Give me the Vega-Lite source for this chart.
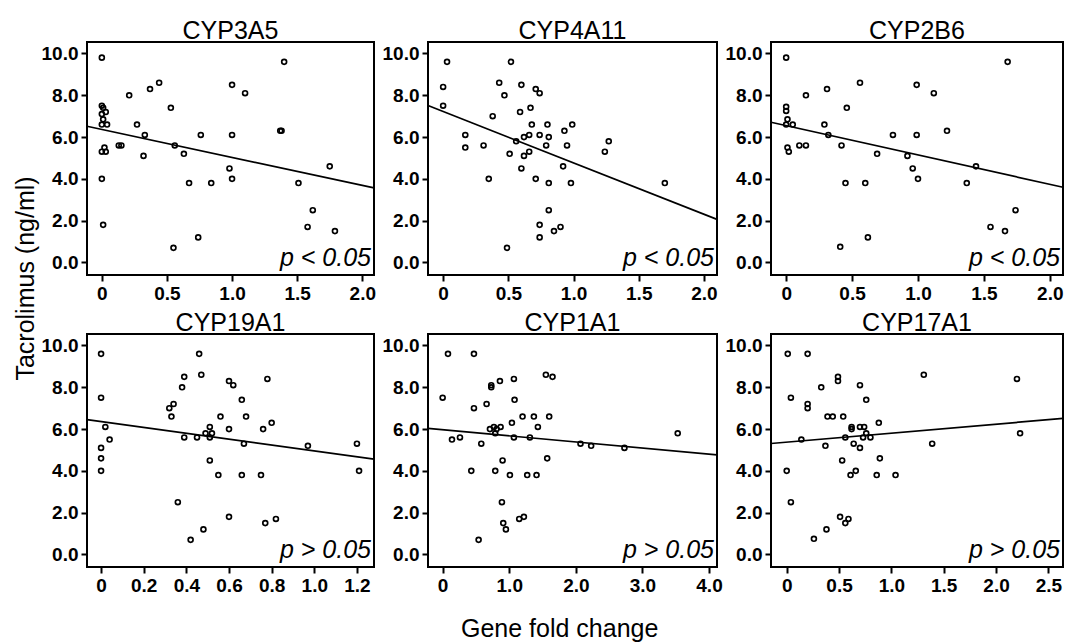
{
  "$schema": "https://vega.github.io/schema/vega-lite/v6.json",
  "padding": {"left": 12, "top": 18, "right": 2, "bottom": 2},
  "background": "white",
  "config": {
    "font": "Liberation Sans",
    "view": {"stroke": "black", "strokeWidth": 2},
    "axis": {"grid": false, "domain": false, "tickColor": "black", "tickWidth": 2, "tickSize": 6, "labelFont": "Liberation Sans", "labelFontSize": 19, "labelFontWeight": "bold", "labelColor": "black", "labelPadding": 3, "labelFlush": false, "labelOverlap": false},
    "title": {"font": "Liberation Sans", "fontSize": 25, "fontWeight": "normal", "color": "black", "offset": -2, "baseline": "alphabetic"},
    "point": {"shape": "circle", "filled": false, "color": "black", "strokeWidth": 1.7, "size": 24, "opacity": 1},
    "line": {"color": "black", "strokeWidth": 1.7},
    "text": {"font": "Liberation Sans", "fontSize": 25, "fontStyle": "italic", "align": "right", "baseline": "alphabetic", "dx": -3, "dy": -9, "color": "black"}
  },
  "title": {"text": "Gene fold change", "orient": "bottom", "anchor": "middle", "fontSize": 25, "offset": 21, "dx": 20, "baseline": "top"},
  "columns": 3,
  "spacing": {"row": 59, "column": 54},
  "bounds": "flush",
  "concat": [
    {
      "width": 287, "height": 233, "title": "CYP3A5",
      "layer": [
        {"data": {"values": [
          {"fold": 0, "tac": 9.8}, {"fold": 1.40, "tac": 9.6}, {"fold": 0.44, "tac": 8.6}, {"fold": 1.0, "tac": 8.5}, {"fold": 0.37, "tac": 8.3}, {"fold": 1.10, "tac": 8.1}, {"fold": 0.21, "tac": 8.0}, {"fold": 0, "tac": 7.5}, {"fold": 0.01, "tac": 7.4}, {"fold": 0.53, "tac": 7.4}, {"fold": 0.03, "tac": 7.2}, {"fold": 0, "tac": 7.1}, {"fold": 0.01, "tac": 6.85}, {"fold": 0, "tac": 6.6}, {"fold": 0.04, "tac": 6.6}, {"fold": 0.27, "tac": 6.6}, {"fold": 0.33, "tac": 6.1}, {"fold": 0.76, "tac": 6.1}, {"fold": 1.0, "tac": 6.1}, {"fold": 1.37, "tac": 6.3}, {"fold": 1.38, "tac": 6.3}, {"fold": 0.13, "tac": 5.6}, {"fold": 0.15, "tac": 5.6}, {"fold": 0.56, "tac": 5.6}, {"fold": 0.02, "tac": 5.5}, {"fold": 0, "tac": 5.3}, {"fold": 0.03, "tac": 5.3}, {"fold": 0.32, "tac": 5.1}, {"fold": 0.63, "tac": 5.2}, {"fold": 0.98, "tac": 4.5}, {"fold": 1.75, "tac": 4.6}, {"fold": 0, "tac": 4.0}, {"fold": 1.0, "tac": 4.0}, {"fold": 0.67, "tac": 3.8}, {"fold": 0.84, "tac": 3.8}, {"fold": 1.51, "tac": 3.8}, {"fold": 1.62, "tac": 2.5}, {"fold": 1.58, "tac": 1.7}, {"fold": 1.79, "tac": 1.5}, {"fold": 0.01, "tac": 1.8}, {"fold": 0.74, "tac": 1.2}, {"fold": 0.55, "tac": 0.7}
        ]}, "mark": "point",
        "encoding": {
          "x": {"field": "fold", "type": "quantitative", "title": null, "scale": {"domain": [-0.114, 2.09], "nice": false, "zero": false}, "axis": {"values": [0, 0.5, 1, 1.5, 2], "labelExpr": "datum.value == 0 ? '0' : format(datum.value, '.1f')"}},
          "y": {"field": "tac", "type": "quantitative", "title": "Tacrolimus (ng/ml)", "scale": {"domain": [-0.6, 10.55], "nice": false, "zero": false}, "axis": {"values": [0, 2, 4, 6, 8, 10], "format": ".1f", "titleFontSize": 25, "titleFontWeight": "normal", "titleFont": "Liberation Sans", "titleColor": "black", "titleX": -62, "titleY": 236, "titleAngle": -90, "titleAlign": "center", "titleBaseline": "middle"}}
        }},
        {"data": {"values": [{"fold": -0.114, "tac": 6.52}, {"fold": 2.09, "tac": 3.57}]}, "mark": "line",
         "encoding": {"x": {"field": "fold", "type": "quantitative"}, "y": {"field": "tac", "type": "quantitative"}}},
        {"data": {"values": [{"p": "p < 0.05"}]}, "mark": "text", "encoding": {"x": {"datum": 2.09, "type": "quantitative"}, "y": {"datum": -0.6, "type": "quantitative"}, "text": {"field": "p"}}}
      ]
    },
    {
      "width": 289, "height": 233, "title": "CYP4A11",
      "layer": [
        {"data": {"values": [
          {"fold": 0.03, "tac": 9.6}, {"fold": 0.52, "tac": 9.6}, {"fold": 0.43, "tac": 8.6}, {"fold": 0.60, "tac": 8.5}, {"fold": 0, "tac": 8.4}, {"fold": 0.71, "tac": 8.3}, {"fold": 0.74, "tac": 8.1}, {"fold": 0.47, "tac": 8.0}, {"fold": 0, "tac": 7.5}, {"fold": 0.67, "tac": 7.4}, {"fold": 0.59, "tac": 7.2}, {"fold": 0.38, "tac": 7.0}, {"fold": 0.68, "tac": 6.6}, {"fold": 0.80, "tac": 6.6}, {"fold": 0.99, "tac": 6.6}, {"fold": 0.93, "tac": 6.3}, {"fold": 0.17, "tac": 6.1}, {"fold": 0.66, "tac": 6.1}, {"fold": 0.74, "tac": 6.1}, {"fold": 0.62, "tac": 6.0}, {"fold": 0.81, "tac": 6.0}, {"fold": 1.27, "tac": 5.8}, {"fold": 0.56, "tac": 5.8}, {"fold": 0.31, "tac": 5.6}, {"fold": 0.79, "tac": 5.6}, {"fold": 0.95, "tac": 5.6}, {"fold": 0.17, "tac": 5.5}, {"fold": 0.66, "tac": 5.3}, {"fold": 1.24, "tac": 5.3}, {"fold": 0.51, "tac": 5.2}, {"fold": 0.62, "tac": 5.1}, {"fold": 0.92, "tac": 4.6}, {"fold": 0.60, "tac": 4.5}, {"fold": 0.35, "tac": 4.0}, {"fold": 0.71, "tac": 4.0}, {"fold": 0.81, "tac": 3.8}, {"fold": 0.98, "tac": 3.8}, {"fold": 1.70, "tac": 3.8}, {"fold": 0.81, "tac": 2.5}, {"fold": 0.74, "tac": 1.8}, {"fold": 0.90, "tac": 1.7}, {"fold": 0.85, "tac": 1.5}, {"fold": 0.74, "tac": 1.2}, {"fold": 0.49, "tac": 0.7}
        ]}, "mark": "point",
        "encoding": {
          "x": {"field": "fold", "type": "quantitative", "title": null, "scale": {"domain": [-0.116, 2.1], "nice": false, "zero": false}, "axis": {"values": [0, 0.5, 1, 1.5, 2], "labelExpr": "datum.value == 0 ? '0' : format(datum.value, '.1f')"}},
          "y": {"field": "tac", "type": "quantitative", "title": null, "scale": {"domain": [-0.6, 10.55], "nice": false, "zero": false}, "axis": {"values": [0, 2, 4, 6, 8, 10], "format": ".1f"}}
        }},
        {"data": {"values": [{"fold": -0.116, "tac": 7.51}, {"fold": 2.1, "tac": 2.06}]}, "mark": "line",
         "encoding": {"x": {"field": "fold", "type": "quantitative"}, "y": {"field": "tac", "type": "quantitative"}}},
        {"data": {"values": [{"p": "p < 0.05"}]}, "mark": "text", "encoding": {"x": {"datum": 2.1, "type": "quantitative"}, "y": {"datum": -0.6, "type": "quantitative"}, "text": {"field": "p"}}}
      ]
    },
    {
      "width": 292, "height": 233, "title": "CYP2B6",
      "layer": [
        {"data": {"values": [
          {"fold": 0, "tac": 9.8}, {"fold": 1.68, "tac": 9.6}, {"fold": 0.56, "tac": 8.6}, {"fold": 0.99, "tac": 8.5}, {"fold": 0.31, "tac": 8.3}, {"fold": 1.12, "tac": 8.1}, {"fold": 0.15, "tac": 8.0}, {"fold": 0, "tac": 7.45}, {"fold": 0, "tac": 7.25}, {"fold": 0.46, "tac": 7.4}, {"fold": 0.01, "tac": 6.85}, {"fold": 0, "tac": 6.6}, {"fold": 0.05, "tac": 6.6}, {"fold": 0.29, "tac": 6.6}, {"fold": 1.22, "tac": 6.3}, {"fold": 0.32, "tac": 6.1}, {"fold": 0.81, "tac": 6.1}, {"fold": 0.99, "tac": 6.1}, {"fold": 0.10, "tac": 5.6}, {"fold": 0.15, "tac": 5.6}, {"fold": 0.42, "tac": 5.6}, {"fold": 0.01, "tac": 5.5}, {"fold": 0.02, "tac": 5.3}, {"fold": 0.69, "tac": 5.2}, {"fold": 0.92, "tac": 5.1}, {"fold": 1.44, "tac": 4.6}, {"fold": 0.96, "tac": 4.5}, {"fold": 1.0, "tac": 4.0}, {"fold": 0.45, "tac": 3.8}, {"fold": 0.60, "tac": 3.8}, {"fold": 1.37, "tac": 3.8}, {"fold": 1.74, "tac": 2.5}, {"fold": 1.55, "tac": 1.7}, {"fold": 1.66, "tac": 1.5}, {"fold": 0.62, "tac": 1.2}, {"fold": 0.41, "tac": 0.75}
        ]}, "mark": "point",
        "encoding": {
          "x": {"field": "fold", "type": "quantitative", "title": null, "scale": {"domain": [-0.115, 2.1], "nice": false, "zero": false}, "axis": {"values": [0, 0.5, 1, 1.5, 2], "labelExpr": "datum.value == 0 ? '0' : format(datum.value, '.1f')"}},
          "y": {"field": "tac", "type": "quantitative", "title": null, "scale": {"domain": [-0.6, 10.55], "nice": false, "zero": false}, "axis": {"values": [0, 2, 4, 6, 8, 10], "format": ".1f"}}
        }},
        {"data": {"values": [{"fold": -0.115, "tac": 6.71}, {"fold": 2.1, "tac": 3.60}]}, "mark": "line",
         "encoding": {"x": {"field": "fold", "type": "quantitative"}, "y": {"field": "tac", "type": "quantitative"}}},
        {"data": {"values": [{"p": "p < 0.05"}]}, "mark": "text", "encoding": {"x": {"datum": 2.1, "type": "quantitative"}, "y": {"datum": -0.6, "type": "quantitative"}, "text": {"field": "p"}}}
      ]
    },
    {
      "width": 287, "height": 233, "title": "CYP19A1",
      "layer": [
        {"data": {"values": [
          {"fold": 0, "tac": 9.6}, {"fold": 0.46, "tac": 9.6}, {"fold": 0.47, "tac": 8.6}, {"fold": 0.39, "tac": 8.5}, {"fold": 0.78, "tac": 8.4}, {"fold": 0.60, "tac": 8.3}, {"fold": 0.62, "tac": 8.1}, {"fold": 0.38, "tac": 8.0}, {"fold": 0, "tac": 7.5}, {"fold": 0.66, "tac": 7.4}, {"fold": 0.34, "tac": 7.2}, {"fold": 0.32, "tac": 7.0}, {"fold": 0.33, "tac": 6.6}, {"fold": 0.56, "tac": 6.6}, {"fold": 0.68, "tac": 6.6}, {"fold": 0.80, "tac": 6.3}, {"fold": 0.02, "tac": 6.1}, {"fold": 0.51, "tac": 6.1}, {"fold": 0.60, "tac": 6.0}, {"fold": 0.76, "tac": 6.0}, {"fold": 0.49, "tac": 5.8}, {"fold": 0.52, "tac": 5.8}, {"fold": 0.39, "tac": 5.6}, {"fold": 0.45, "tac": 5.6}, {"fold": 0.51, "tac": 5.6}, {"fold": 0.04, "tac": 5.5}, {"fold": 0.67, "tac": 5.3}, {"fold": 1.20, "tac": 5.3}, {"fold": 0.97, "tac": 5.2}, {"fold": 0, "tac": 5.1}, {"fold": 0, "tac": 4.6}, {"fold": 0.51, "tac": 4.5}, {"fold": 0, "tac": 4.0}, {"fold": 1.21, "tac": 4.0}, {"fold": 0.55, "tac": 3.8}, {"fold": 0.66, "tac": 3.8}, {"fold": 0.75, "tac": 3.8}, {"fold": 0.36, "tac": 2.5}, {"fold": 0.60, "tac": 1.8}, {"fold": 0.82, "tac": 1.7}, {"fold": 0.77, "tac": 1.5}, {"fold": 0.48, "tac": 1.2}, {"fold": 0.42, "tac": 0.7}
        ]}, "mark": "point",
        "encoding": {
          "x": {"field": "fold", "type": "quantitative", "title": null, "scale": {"domain": [-0.066, 1.28], "nice": false, "zero": false}, "axis": {"values": [0, 0.2, 0.4, 0.6, 0.8, 1.0, 1.2], "labelExpr": "datum.value == 0 ? '0' : format(datum.value, '.1f')"}},
          "y": {"field": "tac", "type": "quantitative", "title": null, "scale": {"domain": [-0.6, 10.55], "nice": false, "zero": false}, "axis": {"values": [0, 2, 4, 6, 8, 10], "format": ".1f"}}
        }},
        {"data": {"values": [{"fold": -0.066, "tac": 6.45}, {"fold": 1.28, "tac": 4.56}]}, "mark": "line",
         "encoding": {"x": {"field": "fold", "type": "quantitative"}, "y": {"field": "tac", "type": "quantitative"}}},
        {"data": {"values": [{"p": "p > 0.05"}]}, "mark": "text", "encoding": {"x": {"datum": 1.28, "type": "quantitative"}, "y": {"datum": -0.6, "type": "quantitative"}, "text": {"field": "p"}}}
      ]
    },
    {
      "width": 289, "height": 233, "title": "CYP1A1",
      "layer": [
        {"data": {"values": [
          {"fold": 0.08, "tac": 9.6}, {"fold": 0.47, "tac": 9.6}, {"fold": 1.55, "tac": 8.6}, {"fold": 1.65, "tac": 8.5}, {"fold": 1.07, "tac": 8.4}, {"fold": 0.86, "tac": 8.3}, {"fold": 0.73, "tac": 8.1}, {"fold": 0.73, "tac": 8.0}, {"fold": 0, "tac": 7.5}, {"fold": 1.08, "tac": 7.4}, {"fold": 0.66, "tac": 7.2}, {"fold": 0.47, "tac": 7.0}, {"fold": 1.20, "tac": 6.6}, {"fold": 1.37, "tac": 6.6}, {"fold": 1.60, "tac": 6.6}, {"fold": 1.04, "tac": 6.3}, {"fold": 0.77, "tac": 6.1}, {"fold": 0.87, "tac": 6.1}, {"fold": 1.43, "tac": 6.1}, {"fold": 0.71, "tac": 6.0}, {"fold": 0.81, "tac": 6.0}, {"fold": 0.79, "tac": 5.8}, {"fold": 3.53, "tac": 5.8}, {"fold": 0.26, "tac": 5.6}, {"fold": 1.07, "tac": 5.6}, {"fold": 1.31, "tac": 5.6}, {"fold": 0.14, "tac": 5.5}, {"fold": 0.58, "tac": 5.3}, {"fold": 2.07, "tac": 5.3}, {"fold": 2.23, "tac": 5.2}, {"fold": 2.73, "tac": 5.1}, {"fold": 1.57, "tac": 4.6}, {"fold": 0.90, "tac": 4.5}, {"fold": 0.43, "tac": 4.0}, {"fold": 0.79, "tac": 4.0}, {"fold": 1.01, "tac": 3.8}, {"fold": 1.27, "tac": 3.8}, {"fold": 1.41, "tac": 3.8}, {"fold": 0.89, "tac": 2.5}, {"fold": 1.15, "tac": 1.7}, {"fold": 1.22, "tac": 1.8}, {"fold": 0.91, "tac": 1.5}, {"fold": 0.95, "tac": 1.2}, {"fold": 0.54, "tac": 0.7}
        ]}, "mark": "point",
        "encoding": {
          "x": {"field": "fold", "type": "quantitative", "title": null, "scale": {"domain": [-0.22, 4.12], "nice": false, "zero": false}, "axis": {"values": [0, 1, 2, 3, 4], "labelExpr": "datum.value == 0 ? '0' : format(datum.value, '.1f')"}},
          "y": {"field": "tac", "type": "quantitative", "title": null, "scale": {"domain": [-0.6, 10.55], "nice": false, "zero": false}, "axis": {"values": [0, 2, 4, 6, 8, 10], "format": ".1f"}}
        }},
        {"data": {"values": [{"fold": -0.22, "tac": 6.03}, {"fold": 4.12, "tac": 4.77}]}, "mark": "line",
         "encoding": {"x": {"field": "fold", "type": "quantitative"}, "y": {"field": "tac", "type": "quantitative"}}},
        {"data": {"values": [{"p": "p > 0.05"}]}, "mark": "text", "encoding": {"x": {"datum": 4.12, "type": "quantitative"}, "y": {"datum": -0.6, "type": "quantitative"}, "text": {"field": "p"}}}
      ]
    },
    {
      "width": 292, "height": 233, "title": "CYP17A1",
      "layer": [
        {"data": {"values": [
          {"fold": 0.01, "tac": 9.6}, {"fold": 0.20, "tac": 9.6}, {"fold": 1.31, "tac": 8.6}, {"fold": 0.49, "tac": 8.5}, {"fold": 0.49, "tac": 8.3}, {"fold": 2.20, "tac": 8.4}, {"fold": 0.70, "tac": 8.1}, {"fold": 0.33, "tac": 8.0}, {"fold": 0.04, "tac": 7.5}, {"fold": 0.76, "tac": 7.4}, {"fold": 0.20, "tac": 7.2}, {"fold": 0.20, "tac": 7.0}, {"fold": 0.39, "tac": 6.6}, {"fold": 0.44, "tac": 6.6}, {"fold": 0.54, "tac": 6.6}, {"fold": 0.88, "tac": 6.3}, {"fold": 0.62, "tac": 6.1}, {"fold": 0.62, "tac": 6.0}, {"fold": 0.70, "tac": 6.1}, {"fold": 0.74, "tac": 6.1}, {"fold": 0.76, "tac": 5.8}, {"fold": 2.23, "tac": 5.8}, {"fold": 0.56, "tac": 5.6}, {"fold": 0.73, "tac": 5.6}, {"fold": 0.80, "tac": 5.6}, {"fold": 0.14, "tac": 5.5}, {"fold": 1.39, "tac": 5.3}, {"fold": 0.64, "tac": 5.3}, {"fold": 0.37, "tac": 5.2}, {"fold": 0.70, "tac": 5.1}, {"fold": 0.89, "tac": 4.6}, {"fold": 0.53, "tac": 4.5}, {"fold": 0, "tac": 4.0}, {"fold": 0.66, "tac": 4.0}, {"fold": 0.61, "tac": 3.8}, {"fold": 0.86, "tac": 3.8}, {"fold": 1.04, "tac": 3.8}, {"fold": 0.04, "tac": 2.5}, {"fold": 0.51, "tac": 1.8}, {"fold": 0.59, "tac": 1.7}, {"fold": 0.56, "tac": 1.5}, {"fold": 0.38, "tac": 1.2}, {"fold": 0.26, "tac": 0.75}
        ]}, "mark": "point",
        "encoding": {
          "x": {"field": "fold", "type": "quantitative", "title": null, "scale": {"domain": [-0.15, 2.64], "nice": false, "zero": false}, "axis": {"values": [0, 0.5, 1, 1.5, 2, 2.5], "labelExpr": "datum.value == 0 ? '0' : format(datum.value, '.1f')"}},
          "y": {"field": "tac", "type": "quantitative", "title": null, "scale": {"domain": [-0.6, 10.55], "nice": false, "zero": false}, "axis": {"values": [0, 2, 4, 6, 8, 10], "format": ".1f"}}
        }},
        {"data": {"values": [{"fold": -0.15, "tac": 5.31}, {"fold": 2.64, "tac": 6.51}]}, "mark": "line",
         "encoding": {"x": {"field": "fold", "type": "quantitative"}, "y": {"field": "tac", "type": "quantitative"}}},
        {"data": {"values": [{"p": "p > 0.05"}]}, "mark": "text", "encoding": {"x": {"datum": 2.64, "type": "quantitative"}, "y": {"datum": -0.6, "type": "quantitative"}, "text": {"field": "p"}}}
      ]
    }
  ]
}
